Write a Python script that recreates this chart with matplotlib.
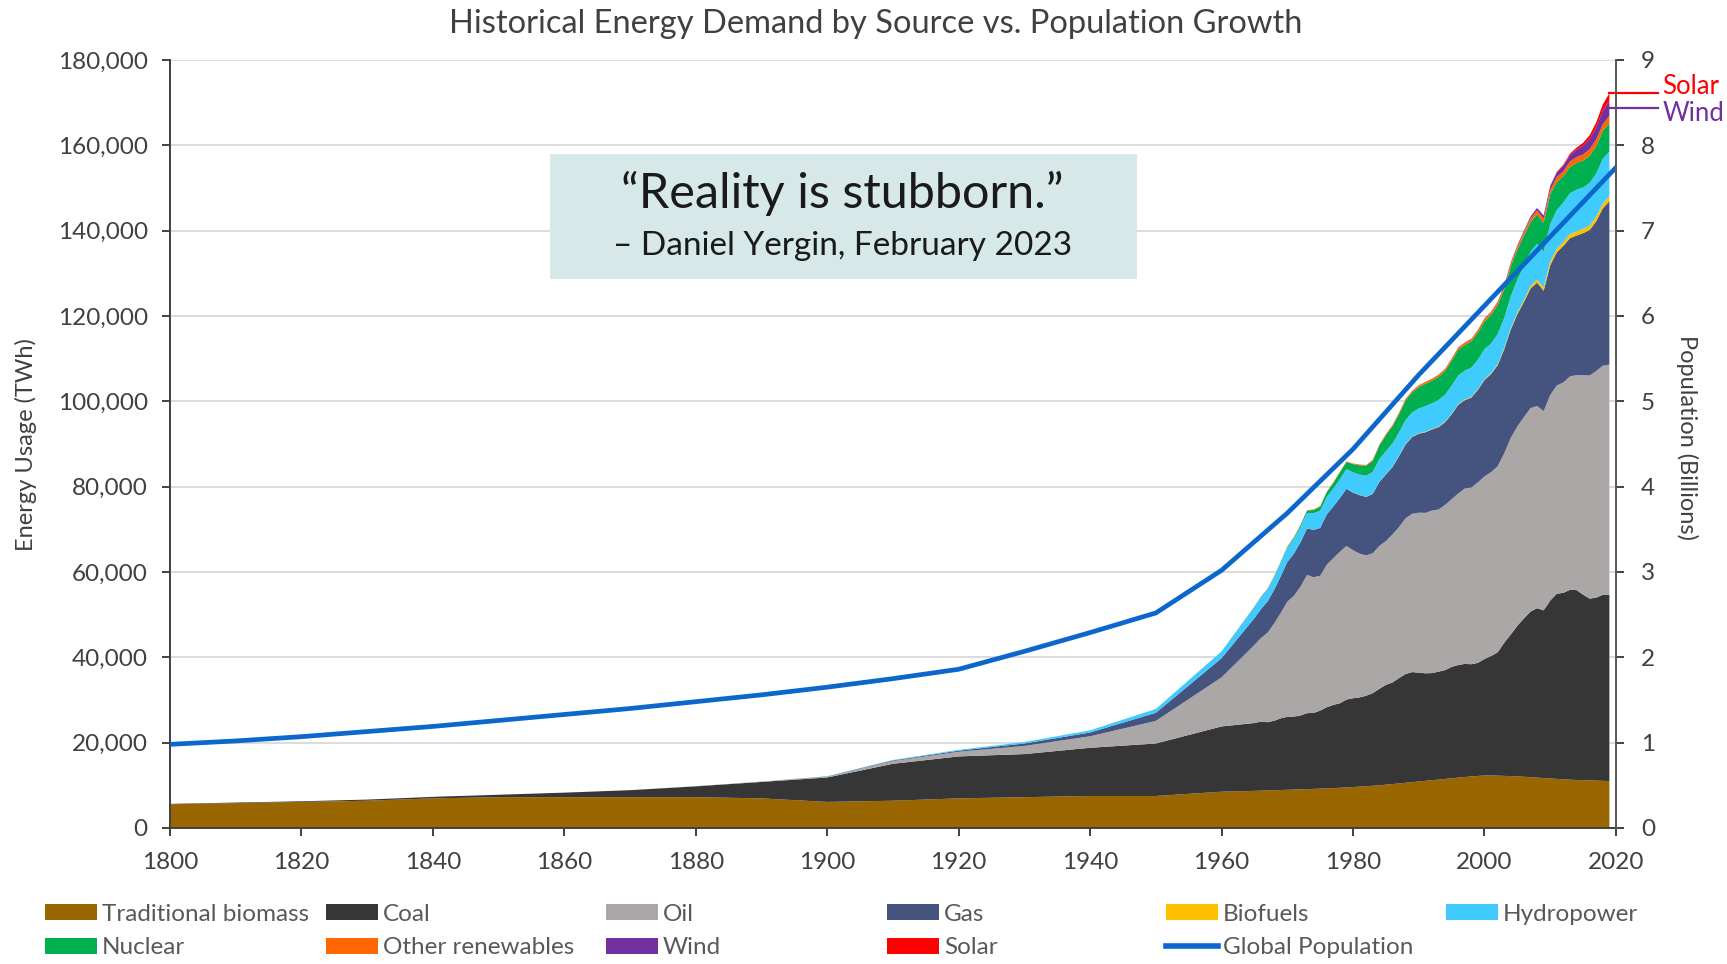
import matplotlib
matplotlib.use('Agg')
import matplotlib.pyplot as plt
from matplotlib.patches import Rectangle, Patch
from matplotlib.lines import Line2D
from matplotlib.ticker import FuncFormatter

plt.rcParams['font.family'] = ['Lato', 'DejaVu Sans']

# decadal values 1800-1960, then yearly 1965-2019 (TWh)
years = list(range(1800, 1961, 10)) + list(range(1965, 2020))

biomass = [5560, 5830, 6110, 6390, 6940, 7220, 7220, 7220, 7220, 6940, 6110, 6390, 6940, 7220, 7500, 7500, 8500,
           8700, 8740, 8790, 8840, 8900, 8950, 9000, 9060, 9110, 9160, 9220, 9290, 9350, 9430, 9500,
           9600, 9700, 9790, 9900, 10010, 10150, 10300, 10440, 10590, 10740, 10900, 11050, 11200, 11340, 11500,
           11650, 11800, 11950, 12080, 12200, 12300, 12310, 12260, 12210, 12150, 12100, 12010, 11910, 11810, 11700,
           11600, 11510, 11410, 11320, 11250, 11200, 11150, 11100, 11050, 11000]
coal = [97, 128, 153, 264, 356, 569, 1061, 1642, 2542, 3856, 5728, 8656, 9833, 10100, 11300, 12300, 15300,
        15900, 16200, 16000, 16300, 16800, 17100, 17100, 17300, 17800, 17800, 18300, 19000, 19500, 19800, 20600,
        20800, 20900, 21200, 21700, 22600, 23400, 23800, 24700, 25500, 25800, 25500, 25200, 25100, 25300, 25500,
        26100, 26400, 26500, 26300, 26500, 27300, 28000, 28900, 31200, 33200, 35300, 37100, 38800, 39700, 39300,
        41700, 43400, 43700, 44500, 44500, 43500, 42600, 42900, 43600, 43700]
oil = [0, 0, 0, 0, 0, 0, 0, 0, 33, 89, 181, 639, 1097, 1911, 2692, 5300, 11500,
       18300, 19600, 21000, 22800, 24700, 27000, 28300, 30200, 32400, 31800, 31600, 33400, 34400, 35500, 36000,
       34700, 33700, 32900, 32800, 33500, 33700, 34700, 35400, 36500, 37100, 37500, 37600, 38100, 38000, 38700,
       39300, 40200, 41100, 41400, 42300, 42800, 43100, 43600, 44400, 46100, 46700, 47200, 47700, 47400, 46700,
       48200, 48800, 49300, 50000, 50400, 51400, 52300, 53100, 53700, 53900]
gas = [0, 0, 0, 0, 0, 0, 0, 0, 0, 0, 64, 150, 245, 575, 889, 1900, 4500,
       6300, 6800, 7300, 7900, 8600, 9300, 9900, 10400, 10900, 11100, 11200, 11800, 12100, 12600, 13400,
       13500, 13700, 13700, 13900, 15000, 15600, 15800, 16600, 17300, 18000, 18500, 18900, 19000, 19300, 19400,
       19900, 20800, 20700, 21100, 21700, 22600, 23000, 23700, 24400, 25400, 26300, 27000, 28000, 28900, 28200,
       30400, 31200, 32000, 32400, 32700, 33300, 34100, 35100, 36900, 38300]
biofuels = [0] * 17 + [0] * 15 + \
           [20, 30, 40, 50, 60, 70, 80, 90, 90, 100, 110, 120, 130, 130, 140,
            150, 160, 170, 170, 170, 180, 200, 240, 280, 320, 380, 470, 580, 740, 800,
            880, 890, 890, 940, 1000, 1020, 1030, 1070, 1120, 1150]
hydro = [0, 0, 0, 0, 0, 0, 0, 0, 0, 0, 50, 100, 200, 350, 500, 900, 1600,
         2600, 2780, 2850, 3000, 3170, 3300, 3450, 3550, 3620, 3950, 4000, 4060, 4150, 4420, 4620,
         4730, 4790, 4930, 5110, 5280, 5380, 5440, 5500, 5650, 5650, 5800, 5980, 5980, 6240, 6290,
         6560, 6670, 6780, 6820, 6880, 7030, 6930, 7030, 7030, 7470, 7730, 7940, 8040, 8360, 8350,
         8780, 8990, 9310, 9580, 9740, 9680, 10010, 10110, 10440, 10450]
nuclear = [0] * 17 + \
          [70, 90, 110, 140, 170, 230, 310, 420, 560, 730, 1000, 1140, 1400, 1610, 1660,
           1920, 2190, 2330, 2630, 3150, 3750, 4020, 4280, 4600, 4700, 5010, 5250, 5300, 5430, 5560,
           5820, 6030, 6010, 6150, 6380, 6520, 6700, 6830, 6740, 7010, 7010, 7090, 6930, 6900, 6780,
           6920, 6620, 6120, 6180, 6290, 6320, 6390, 6440, 6560, 6750]
other_renew = [0] * 17 + \
              [60, 65, 70, 75, 80, 85, 90, 95, 100, 110, 115, 120, 130, 140, 150,
               160, 175, 190, 210, 240, 270, 300, 330, 360, 390, 420, 440, 460, 480, 500,
               520, 540, 560, 580, 600, 620, 640, 670, 700, 740, 780, 820, 870, 920, 970,
               1050, 1120, 1200, 1280, 1350, 1420, 1480, 1540, 1580, 1620]
wind = [0] * 17 + [0] * 20 + \
       [2, 3, 5, 7, 8, 10, 12, 14, 18, 22, 25, 30, 38, 50, 65,
        80, 100, 130, 160, 210, 270, 340, 440, 570, 710,
        890, 1090, 1290, 1470, 1740, 2110, 2440, 2860, 3160, 3540]
solar = [0] * 17 + [0] * 25 + \
        [1, 1, 1, 1, 1, 1, 1, 2, 2, 2, 3, 4, 5, 6, 7,
         10, 15, 20, 30, 55, 90, 170, 250, 350, 470, 640, 850, 1160, 1480, 1790]

pop_years = list(range(1800, 2021, 10))
population = [0.98, 1.02, 1.07, 1.13, 1.19, 1.26, 1.33, 1.40, 1.48, 1.56, 1.65, 1.75, 1.86,
              2.07, 2.29, 2.52, 3.02, 3.69, 4.44, 5.31, 6.12, 6.93, 7.74]

names = ['Traditional biomass', 'Coal', 'Oil', 'Gas', 'Biofuels', 'Hydropower',
         'Nuclear', 'Other renewables', 'Wind', 'Solar']
colors = ['#996600', '#363636', '#ABA7A6', '#44547F', '#FFC000', '#40CBFF',
          '#00B050', '#FF6600', '#7030A0', '#FF0000']
series = [biomass, coal, oil, gas, biofuels, hydro, nuclear, other_renew, wind, solar]
pop_color = '#0B67CC'
txt = '#404040'

fig = plt.figure(figsize=(17.27, 9.64), dpi=100)
ax = fig.add_axes([0.0984, 0.1411, 0.8373, 0.7967])
ax.stackplot(years, *series, colors=colors, lw=0)
ax.set_xlim(1800, 2020)
ax.set_ylim(0, 180000)
ax.set_xticks(range(1800, 2021, 20))
ax.set_yticks(range(0, 180001, 20000))
ax.yaxis.set_major_formatter(FuncFormatter(lambda v, p: f'{v:,.0f}'))
ax.grid(axis='y', color='#D9D9D9', lw=1.3)
ax.set_axisbelow(True)
for s in ['top', 'right']:
    ax.spines[s].set_visible(False)
for s in ['left', 'bottom']:
    ax.spines[s].set_color(txt)
    ax.spines[s].set_linewidth(1.4)
ax.tick_params(direction='out', length=6, width=1.4, color=txt, labelsize=17.5, labelcolor=txt)
ax.tick_params(axis='x', pad=11)
ax.tick_params(axis='y', pad=10)

ax2 = ax.twinx()
ax2.plot(pop_years, population, color=pop_color, lw=3.4, solid_capstyle='round')
ax2.set_ylim(0, 9)
ax2.set_yticks(range(0, 10))
for s in ['top', 'left', 'bottom']:
    ax2.spines[s].set_visible(False)
ax2.spines['right'].set_color('#595959')
ax2.spines['right'].set_linewidth(1.4)
ax2.tick_params(direction='out', length=6, width=1.4, color=txt, labelsize=17.5, labelcolor=txt, pad=12)

# Solar / Wind call-outs at the right edge
tot_last = sum(s[-1] for s in series)
wind_mid = sum(s[-1] for s in series[:8]) + wind[-1] / 2
ax.plot([years[-1], 2026.4], [tot_last, tot_last], color='#FF0000', lw=1.6, clip_on=False, zorder=5)
ax.plot([years[-1], 2026.4], [wind_mid, wind_mid], color='#7030A0', lw=1.6, clip_on=False, zorder=5)
ax.annotate('Solar', xy=(2026.4, tot_last), xytext=(3, 5), textcoords='offset points',
            va='center', ha='left', fontsize=18.5, color='#FF0000', annotation_clip=False)
ax.annotate('Wind', xy=(2026.4, wind_mid), xytext=(3, -4), textcoords='offset points',
            va='center', ha='left', fontsize=18.5, color='#7030A0', annotation_clip=False)

fig.text(0.015, 0.539, 'Energy Usage (TWh)', rotation=90, va='center', ha='center', fontsize=17, color=txt)
fig.text(0.977, 0.546, 'Population (Billions)', rotation=270, va='center', ha='center', fontsize=17, color=txt)
fig.text(0.507, 0.975, 'Historical Energy Demand by Source vs. Population Growth',
         ha='center', va='center', fontsize=23.5, color=txt)

# quote box
fig.add_artist(Rectangle((0.3185, 0.7106), 0.3399, 0.1297, transform=fig.transFigure,
                         facecolor='#D6E8E8', edgecolor='none', zorder=3))
fig.text(0.4879, 0.799, '\u201cReality is stubborn.\u201d', ha='center', va='center',
         fontsize=35, color='#1A1A1A', zorder=4)
fig.text(0.4879, 0.745, '\u2013 Daniel Yergin, February 2023', ha='center', va='center',
         fontsize=24, color='#1A1A1A', zorder=4)

# legend: six columns placed at fixed spacing
handles = [Patch(facecolor=c, edgecolor='none') for c in colors] + \
          [Line2D([0], [0], color=pop_color, lw=4)]
labels = names + ['Global Population']
cols = [[0, 6], [1, 7], [2, 8], [3, 9], [4, 10], [5]]
col_x = [45, 326, 606, 887, 1166, 1446]
for idx, x in zip(cols, col_x):
    fig.legend([handles[i] for i in idx], [labels[i] for i in idx], loc='upper left',
               bbox_to_anchor=(x / 1727, 1 - 904 / 964), frameon=False, borderpad=0,
               borderaxespad=0, handlelength=2.14, handleheight=0.64, handletextpad=0.2,
               labelspacing=0.5, fontsize=17.5, labelcolor='#595959')

fig.savefig('out.png', dpi=100)
